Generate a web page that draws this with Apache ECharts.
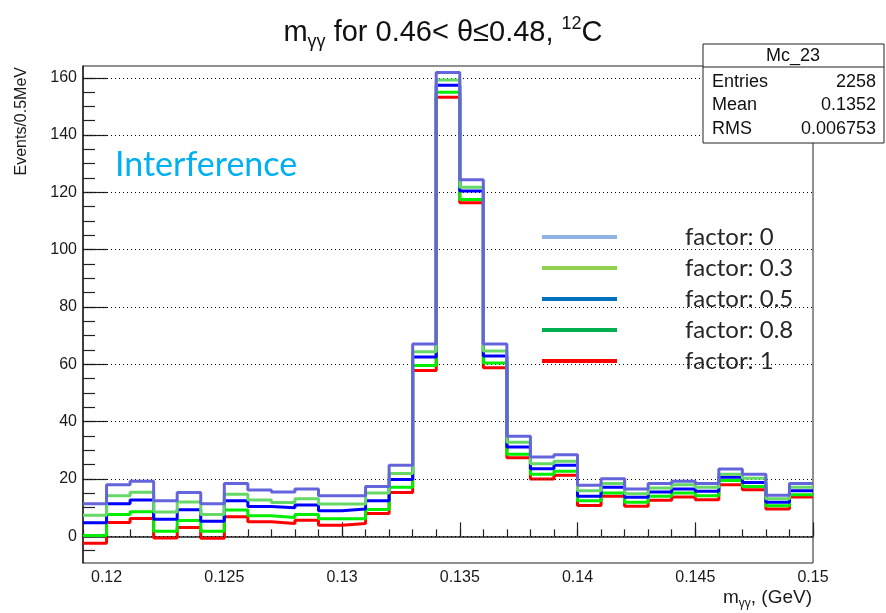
<!DOCTYPE html>
<html>
<head>
<meta charset="utf-8">
<script src="https://cdn.jsdelivr.net/npm/echarts@6/dist/echarts.min.js"></script>
<style>html,body{margin:0;padding:0;background:#fff;}#main{width:886px;height:613px;}</style>
</head>
<body>
<div id="main"></div>
<script>
// Bin edges (GeV), 1 MeV bins from 0.119 to 0.150
const binEdges = [0.119,0.120,0.121,0.122,0.123,0.124,0.125,0.126,0.127,0.128,0.129,0.130,0.131,0.132,0.133,0.134,0.135,0.136,0.137,0.138,0.139,0.140,0.141,0.142,0.143,0.144,0.145,0.146,0.147,0.148,0.149,0.150];
// Bin contents per interference factor
const factor0  = [11.4,18.0,19.2,12.4,15.3,11.4,18.4,16.2,15.5,16.5,14.2,14.2,17.4,24.8,67.1,161.8,124.4,67.1,34.9,27.7,28.5,17.8,20.1,16.5,18.4,19.2,18.4,23.5,21.7,14.3,18.4];
const factor03 = [7.4,14.2,15.4,8.5,12.0,7.6,14.7,12.7,11.8,13.1,11.3,11.3,15.1,21.9,64.4,159.2,121.8,64.7,32.8,25.3,26.2,15.9,18.4,14.9,16.9,18.0,17.1,21.7,20.3,13.1,17.1];
const factor05 = [4.7,11.4,12.7,6.0,9.3,5.3,12.4,10.4,10.0,10.9,8.9,9.5,12.4,19.8,62.6,157.4,120.5,62.9,31.2,23.6,24.8,14.0,17.1,13.6,15.5,16.5,15.7,20.6,18.8,11.9,15.9];
const factor08 = [0.3,7.6,8.6,1.8,5.5,1.8,9.2,7.2,6.6,7.6,6.1,6.1,9.4,17.1,59.6,154.9,117.5,60.5,28.6,21.7,22.7,12.4,15.1,11.9,14.0,15.1,14.2,19.5,17.4,10.7,14.5];
const factor1  = [-2.4,4.8,6.2,-0.6,3.1,-0.7,6.8,5.1,4.5,5.6,3.9,4.5,8.0,15.3,57.9,153.2,116.4,58.8,27.4,20.0,21.3,10.8,14.0,10.5,12.6,13.7,12.8,18.0,16.3,9.5,13.7];
const seriesNames = ['factor: 0','factor: 0.3','factor: 0.5','factor: 0.8','factor: 1'];
// Tick values
const xMajorTicks = [0.12,0.125,0.13,0.135,0.14,0.145,0.15];
const yMajorTicks = [0,20,40,60,80,100,120,140,160];
const yMinorTicks = [-5,0,5,10,15,20,25,30,35,40,45,50,55,60,65,70,75,80,85,90,95,100,105,110,115,120,125,130,135,140,145,150,155,160];

const X_MIN = 0.119, X_MAX = 0.15, Y_MIN = -9.3, Y_MAX = 164.1;
const lineColors = ['#6464dc','#66d866','#0000ff','#00ee00','#ff0000'];
const legendColors = ['#8eb4e3','#92d050','#0070c0','#00b050','#ff0000'];
const allData = [factor0, factor03, factor05, factor08, factor1];

function toSteps(vals){
  return binEdges.map((e,i)=>[e, vals[Math.min(i, vals.length-1)]]);
}

const chart = echarts.init(document.getElementById('main'), null, {renderer:'canvas'});
const helv = 'Liberation Sans, Arial, sans-serif';

const series = allData.map((vals,k)=>({
  name: seriesNames[k],
  type: 'line',
  step: 'end',
  symbol: 'none',
  xAxisIndex: 0, yAxisIndex: 0,
  data: toSteps(vals),
  z: 10 - k,
  lineStyle: {color: lineColors[k], width: 3},
  itemStyle: {color: lineColors[k]},
  emphasis: {disabled: true},
  silent: true
}));
series[4].markLine = {
  silent: true, symbol: 'none', animation: false,
  label: {show: false},
  lineStyle: {color: '#000', width: 1, type: [1,3]},
  data: yMajorTicks.map(v=>({yAxis: v}))
};
series[4].z = 1;

const option = {
  animation: false,
  backgroundColor: '#fff',
  title: {
    left: 'center', top: 10,
    text: '{n|m}{sub|γγ}{n| for 0.46< θ≤0.48, }{sup|12}{n|C}',
    textStyle: {
      fontWeight: 'normal',
      rich: {
        n: {fontFamily: helv, fontSize: 29, fontWeight: 'normal', lineHeight: 36, verticalAlign: 'middle', color: '#111'},
        sub: {fontFamily: helv, fontSize: 18, fontWeight: 'normal', lineHeight: 17, verticalAlign: 'bottom', color: '#111'},
        sup: {fontFamily: helv, fontSize: 18, fontWeight: 'normal', lineHeight: 17, verticalAlign: 'top', color: '#111'}
      }
    }
  },
  legend: {
    orient: 'vertical', left: 537, top: 220,
    itemWidth: 75, itemHeight: 4, itemGap: 7,
    icon: 'rect', selectedMode: false,
    textStyle: {fontFamily: 'Lato, sans-serif', fontSize: 24, lineHeight: 24, color: '#262626', padding: [0,0,0,63]},
    data: seriesNames.map((n,k)=>({name: n, itemStyle: {color: legendColors[k]}}))
  },
  grid: {left: 83, right: 73, top: 66, bottom: 50, show: true, borderColor: '#222', borderWidth: 1, backgroundColor: 'transparent'},
  xAxis: [
    {type: 'value', min: X_MIN, max: X_MAX, position: 'bottom',
     axisLine: {show: true, lineStyle: {color: '#222', width: 1.5}},
     axisTick: {show: true, inside: true, length: 14, customValues: xMajorTicks, lineStyle: {color: '#222', width: 1.2}},
     axisLabel: {show: true, customValues: xMajorTicks, margin: 7, fontFamily: helv, fontSize: 16, color: '#1a1a1a',
       formatter: v => String(+(+v).toFixed(3))},
     splitLine: {show: false}},
    {type: 'value', min: X_MIN, max: X_MAX, position: 'bottom',
     axisLine: {show: false},
     axisTick: {show: true, inside: true, length: 7, customValues: binEdges, lineStyle: {color: '#222', width: 1.2}},
     axisLabel: {show: false},
     splitLine: {show: false}}
  ],
  yAxis: [
    {type: 'value', min: Y_MIN, max: Y_MAX, position: 'left',
     axisLine: {show: true, lineStyle: {color: '#222', width: 1.5}},
     axisTick: {show: true, inside: true, length: 24, customValues: yMajorTicks, lineStyle: {color: '#222', width: 1.2}},
     axisLabel: {show: true, customValues: yMajorTicks, margin: 6, fontFamily: helv, fontSize: 16, color: '#1a1a1a'},
     splitLine: {show: false}},
    {type: 'value', min: Y_MIN, max: Y_MAX, position: 'left',
     axisLine: {show: false},
     axisTick: {show: true, inside: true, length: 12, customValues: yMinorTicks, lineStyle: {color: '#222', width: 1.2}},
     axisLabel: {show: false},
     splitLine: {show: false}}
  ],
  series: series,
  graphic: [
    {type: 'text', x: 22, y: 67, rotation: Math.PI/2, z: 50,
     style: {text: 'Events/0.5MeV', fontFamily: helv, fontSize: 16, fill: '#1a1a1a', align: 'right', verticalAlign: 'middle'}},
    {type: 'text', x: 812, y: 598, z: 50,
     style: {text: '{a|m}{b|γγ}{a|, (GeV)}', align: 'right', verticalAlign: 'middle',
       rich: {
         a: {fontFamily: helv, fontSize: 19, lineHeight: 24, verticalAlign: 'middle', fill: '#1a1a1a'},
         b: {fontFamily: helv, fontSize: 12, lineHeight: 12, verticalAlign: 'bottom', fill: '#1a1a1a'}
       }}},
    {type: 'text', x: 115, y: 165, z: 50,
     style: {text: 'Interference', fontFamily: 'Lato, sans-serif', fontSize: 34, fill: '#00b0f0', align: 'left', verticalAlign: 'middle'}},
    {type: 'rect', z: 100, shape: {x: 703, y: 44, width: 181, height: 99},
     style: {fill: '#fff', stroke: '#222', lineWidth: 1}},
    {type: 'line', z: 101, shape: {x1: 703, y1: 67, x2: 884, y2: 67}, style: {stroke: '#222', lineWidth: 1}},
    {type: 'text', z: 102, x: 793, y: 56, style: {text: 'Mc_23', fontFamily: helv, fontSize: 18, fill: '#111', align: 'center', verticalAlign: 'middle'}},
    {type: 'text', z: 102, x: 712, y: 82, style: {text: 'Entries', fontFamily: helv, fontSize: 18, fill: '#111', align: 'left', verticalAlign: 'middle'}},
    {type: 'text', z: 102, x: 876, y: 82, style: {text: '2258', fontFamily: helv, fontSize: 18, fill: '#111', align: 'right', verticalAlign: 'middle'}},
    {type: 'text', z: 102, x: 712, y: 105, style: {text: 'Mean', fontFamily: helv, fontSize: 18, fill: '#111', align: 'left', verticalAlign: 'middle'}},
    {type: 'text', z: 102, x: 876, y: 105, style: {text: '0.1352', fontFamily: helv, fontSize: 18, fill: '#111', align: 'right', verticalAlign: 'middle'}},
    {type: 'text', z: 102, x: 712, y: 129, style: {text: 'RMS', fontFamily: helv, fontSize: 18, fill: '#111', align: 'left', verticalAlign: 'middle'}},
    {type: 'text', z: 102, x: 876, y: 129, style: {text: '0.006753', fontFamily: helv, fontSize: 18, fill: '#111', align: 'right', verticalAlign: 'middle'}}
  ]
};
chart.setOption(option);
</script>
</body>
</html>
